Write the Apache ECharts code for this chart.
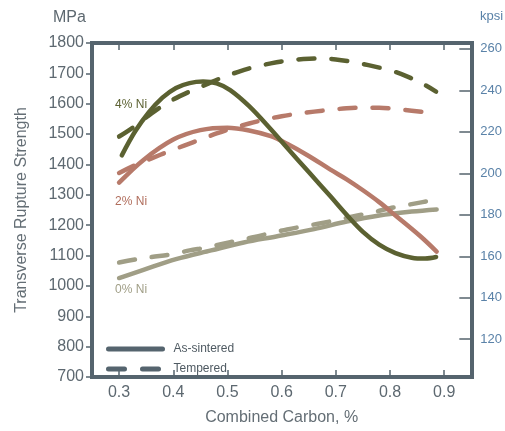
<!DOCTYPE html>
<html>
<head>
<meta charset="utf-8">
<script src="https://cdn.jsdelivr.net/npm/echarts@6/dist/echarts.min.js"></script>
<style>
html,body{margin:0;padding:0;background:#fff;}
#chart{width:505px;height:431px;}
</style>
</head>
<body>
<div id="chart"></div>
<script>
// ---- data ----
const xTicks = [0.3, 0.4, 0.5, 0.6, 0.7, 0.8, 0.9];
const kpsiTicks = [120, 140, 160, 180, 200, 220, 240, 260];
const mpaMin = 700, mpaMax = 1800, mpaStep = 100;

const ni4Sintered = [[0.305,1430],[0.33,1510],[0.355,1572],[0.38,1620],[0.405,1652],[0.43,1668],[0.455,1673],[0.48,1667],[0.505,1645],[0.54,1592],[0.58,1516],[0.61,1455],[0.65,1375],[0.69,1295],[0.72,1234],[0.75,1178],[0.78,1136],[0.81,1108],[0.84,1093],[0.865,1090],[0.885,1095]];
const ni4Tempered = [[0.30,1492],[0.325,1521],[0.35,1555],[0.375,1587],[0.40,1614],[0.43,1640],[0.46,1663],[0.49,1686],[0.52,1705],[0.55,1721],[0.58,1733],[0.61,1742],[0.64,1747],[0.67,1749],[0.70,1746],[0.73,1738],[0.76,1727],[0.80,1710],[0.83,1691],[0.86,1666],[0.885,1640]];
const ni2Sintered = [[0.30,1340],[0.345,1415],[0.40,1482],[0.45,1513],[0.50,1521],[0.54,1512],[0.58,1493],[0.61,1468],[0.65,1428],[0.69,1383],[0.72,1351],[0.75,1315],[0.78,1276],[0.81,1232],[0.855,1165],[0.886,1113]];
const ni2Tempered = [[0.30,1372],[0.33,1398],[0.36,1420],[0.39,1442],[0.42,1462],[0.45,1482],[0.48,1502],[0.51,1520],[0.54,1535],[0.57,1548],[0.60,1559],[0.63,1567],[0.66,1574],[0.69,1580],[0.72,1585],[0.75,1587],[0.78,1587],[0.81,1583],[0.84,1577],[0.885,1568]];
const ni0Sintered = [[0.30,1026],[0.345,1053],[0.405,1088],[0.47,1117],[0.53,1143],[0.59,1163],[0.66,1187],[0.72,1212],[0.78,1232],[0.84,1245],[0.886,1252]];
const ni0Tempered = [[0.30,1077],[0.333,1088],[0.36,1095],[0.40,1105],[0.43,1117],[0.46,1126],[0.49,1138],[0.52,1150],[0.55,1161],[0.58,1174],[0.61,1186],[0.65,1199],[0.68,1209],[0.71,1220],[0.74,1232],[0.77,1243],[0.80,1256],[0.83,1266],[0.86,1276],[0.886,1284]];

const curveLabels = [
  {text: '4% Ni', x: 0.2926, y: 1597, color: '#5b6131'},
  {text: '2% Ni', x: 0.2926, y: 1277, color: '#b06d5c'},
  {text: '0% Ni', x: 0.2926, y: 987, color: '#a09e86'}
];

// ---- styling ----
const FONT = 'Liberation Sans, Arial, sans-serif';
const FRAME = '#55646e';
const OLIVE = '#5b6131';
const RED = '#b77a6a';
const TAN = '#a09e86';
const DASH = [16, 17];

function lineSeries(name, data, color, dashed) {
  return {
    type: 'line', name: name, data: data, smooth: 0.35,
    showSymbol: false, symbol: 'none', silent: true,
    lineStyle: {color: color, width: 4.5, type: dashed ? DASH : 'solid', cap: 'round', join: 'round'},
    z: 3
  };
}

const chart = echarts.init(document.getElementById('chart'), null, {renderer: 'canvas'});

const option = {
  animation: false,
  backgroundColor: '#fff',
  textStyle: {fontFamily: FONT},
  grid: {left: 92, right: 33.5, top: 43, bottom: 43, containLabel: false},
  legend: {
    orient: 'vertical', left: 106, top: 343, padding: 0,
    itemWidth: 54, itemHeight: 10, itemGap: 8,
    data: ['As-sintered', 'Tempered'],
    itemStyle: {opacity: 0},
    lineStyle: {width: 5, cap: 'round'},
    textStyle: {fontFamily: FONT, fontSize: 12, color: '#4f5a62', padding: [0, 0, 0, 6]}
  },
  xAxis: [
    {
      type: 'value', position: 'bottom', min: 0.25, max: 0.95,
      axisLine: {show: true, lineStyle: {color: FRAME, width: 4, cap: 'square'}},
      axisTick: {show: true, inside: true, length: 7, customValues: xTicks, lineStyle: {color: FRAME, width: 1.5}},
      axisLabel: {show: true, customValues: xTicks, formatter: v => v.toFixed(1), fontSize: 16, color: '#5d6870', fontFamily: FONT, margin: 8},
      splitLine: {show: false},
      name: 'Combined Carbon, %', nameLocation: 'middle', nameGap: 33,
      nameTextStyle: {fontSize: 16, color: '#646e75', fontFamily: FONT}
    },
    {
      type: 'value', position: 'top', min: 0.25, max: 0.95,
      axisLine: {show: true, lineStyle: {color: FRAME, width: 4, cap: 'square'}},
      axisTick: {show: true, inside: true, length: 7, customValues: xTicks, lineStyle: {color: FRAME, width: 1.5}},
      axisLabel: {show: false},
      splitLine: {show: false}
    }
  ],
  yAxis: [
    {
      type: 'value', position: 'left', min: mpaMin, max: mpaMax, interval: mpaStep,
      axisLine: {show: true, lineStyle: {color: FRAME, width: 4, cap: 'square'}},
      axisTick: {show: true, inside: false, length: 6, lineStyle: {color: FRAME, width: 1.5}},
      axisLabel: {fontSize: 16, color: '#5d6870', fontFamily: FONT, margin: 8, formatter: v => String(v)},
      splitLine: {show: false},
      name: 'Transverse Rupture Strength', nameLocation: 'middle', nameGap: 62, nameRotate: 90,
      nameTextStyle: {fontSize: 16, color: '#646e75', fontFamily: FONT}
    },
    {
      type: 'value', position: 'right', min: 101.8, max: 262.8,
      axisLine: {show: true, lineStyle: {color: FRAME, width: 4, cap: 'square'}},
      axisTick: {show: true, inside: true, length: 12, customValues: kpsiTicks, lineStyle: {color: FRAME, width: 1.5}},
      axisLabel: {customValues: kpsiTicks, fontSize: 13, color: '#5a82a8', fontFamily: FONT, margin: 9, formatter: v => String(v)},
      splitLine: {show: false}
    }
  ],
  graphic: [
    {type: 'text', left: 53, top: 10, style: {text: 'MPa', fontSize: 16, fill: '#5d6870', fontFamily: FONT}},
    {type: 'text', left: 480, top: 10, style: {text: 'kpsi', fontSize: 13, fill: '#5a82a8', fontFamily: FONT}}
  ],
  series: [
    lineSeries('0% Ni tempered', ni0Tempered, TAN, true),
    lineSeries('0% Ni as-sintered', ni0Sintered, TAN, false),
    lineSeries('2% Ni tempered', ni2Tempered, RED, true),
    lineSeries('2% Ni as-sintered', ni2Sintered, RED, false),
    lineSeries('4% Ni tempered', ni4Tempered, OLIVE, true),
    lineSeries('4% Ni as-sintered', ni4Sintered, OLIVE, false),
    {type: 'line', name: 'As-sintered', data: [], symbol: 'none', color: FRAME,
     lineStyle: {color: FRAME, width: 5, type: 'solid', cap: 'round'}},
    {type: 'line', name: 'Tempered', data: [], symbol: 'none', color: FRAME,
     lineStyle: {color: FRAME, width: 5, type: [16, 18], cap: 'round'}}
  ]
};
chart.setOption(option);

const labelGraphics = curveLabels.map(l => {
  const p = chart.convertToPixel({xAxisIndex: 0, yAxisIndex: 0}, [l.x, l.y]);
  return {type: 'text', x: p[0], y: p[1], style: {text: l.text, fontSize: 12, fill: l.color, fontFamily: FONT, verticalAlign: 'middle', align: 'left'}};
});
chart.setOption({graphic: option.graphic.concat(labelGraphics)});
</script>
</body>
</html>
